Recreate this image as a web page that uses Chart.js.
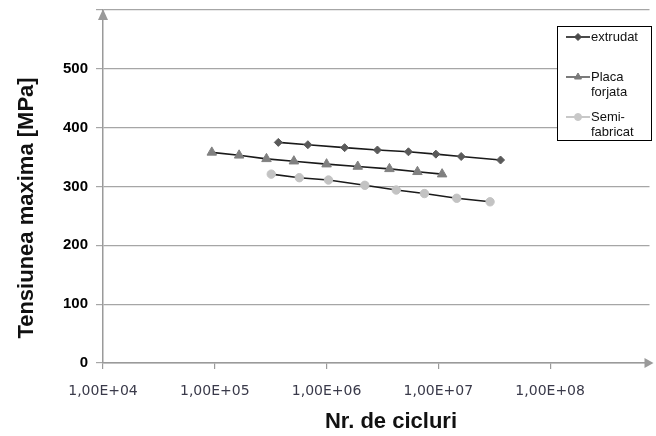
<!DOCTYPE html>
<html>
<head>
<meta charset="utf-8">
<script src="https://cdn.jsdelivr.net/npm/chart.js@4"></script>
<style>
    html, body { margin: 0; padding: 0; background: #fff; }
    #wrap { width: 656px; height: 436px; }
</style>
</head>
<body>
<div id="wrap"><canvas id="chart" width="656" height="436"></canvas></div>
<script>
const seriesNames = ['extrudat', 'Placa forjata', 'Semi-fabricat'];
const legendLines = [['extrudat'], ['Placa', 'forjata'], ['Semi-', 'fabricat']];

const extrudatCycles = [3.7e5, 6.8e5, 1.45e6, 2.85e6, 5.4e6, 9.5e6, 1.6e7, 3.6e7];
const extrudatStress = [375, 371, 366, 362, 359, 355, 351, 345];

const placaCycles = [9.4e4, 1.65e5, 2.9e5, 5.1e5, 1.0e6, 1.9e6, 3.65e6, 6.5e6, 1.08e7];
const placaStress = [358, 353, 347, 343, 338, 334, 330, 325, 321];

const semiCycles = [3.2e5, 5.7e5, 1.04e6, 2.2e6, 4.2e6, 7.5e6, 1.46e7, 2.9e7];
const semiStress = [321, 315, 311, 302, 294, 288, 280, 274];

const xTickValues = [1e4, 1e5, 1e6, 1e7, 1e8];
const xTickLabels = ['1,00E+04', '1,00E+05', '1,00E+06', '1,00E+07', '1,00E+08'];
const yTickValues = [0, 100, 200, 300, 400, 500, 600];
const yTickLabels = ['0', '100', '200', '300', '400', '500', ''];

const xTitle = 'Nr. de cicluri';
const yTitle = 'Tensiunea maxima [MPa]';

const FONT = "'Liberation Sans', Arial, sans-serif";

function toPoints(xs, ys) {
    return xs.map((x, i) => ({ x: x, y: ys[i] }));
}

// marker looks per series (plot + legend)
const looks = [
    { style: 'rectRot', color: '#5a5a5a', legendLine: '#4a4a4a', radius: 4, legendRadius: 3.5 },
    { style: 'triangle', color: '#808080', legendLine: '#7a7a7a', radius: 5.5, legendRadius: 4 },
    { style: 'circle', color: '#c3c3c3', legendLine: '#c8c8c8', radius: 4.2, legendRadius: 3.5 }
];

const seriesData = [
    toPoints(extrudatCycles, extrudatStress),
    toPoints(placaCycles, placaStress),
    toPoints(semiCycles, semiStress)
];

const datasets = seriesData.map((pts, i) => ({
    label: seriesNames[i],
    data: pts,
    borderColor: '#1a1a1a',
    borderWidth: 1.6,
    pointStyle: looks[i].style,
    pointRadius: looks[i].radius,
    pointBackgroundColor: looks[i].color,
    pointBorderColor: looks[i].color,
    pointBorderWidth: 1,
    tension: 0
}));

// arrow heads on the axis ends + axis titles
const axisExtras = {
    id: 'axisExtras',
    afterDraw(chart) {
        const { ctx, chartArea } = chart;
        ctx.save();
        ctx.fillStyle = '#9a9a9a';
        ctx.beginPath();
        ctx.moveTo(chartArea.left, chartArea.top - 1);
        ctx.lineTo(chartArea.left - 5, chartArea.top + 10);
        ctx.lineTo(chartArea.left + 5, chartArea.top + 10);
        ctx.closePath();
        ctx.fill();
        ctx.beginPath();
        ctx.moveTo(chartArea.right + 4, chartArea.bottom);
        ctx.lineTo(chartArea.right - 5, chartArea.bottom - 5);
        ctx.lineTo(chartArea.right - 5, chartArea.bottom + 5);
        ctx.closePath();
        ctx.fill();

        ctx.fillStyle = '#111';
        ctx.font = 'bold 22px ' + FONT;
        ctx.textAlign = 'center';
        ctx.textBaseline = 'alphabetic';
        ctx.fillText(xTitle, 391, 428);

        ctx.translate(33, 208);
        ctx.rotate(-Math.PI / 2);
        ctx.fillText(yTitle, 0, 0);
        ctx.restore();
    }
};

// boxed legend in the top right corner
const boxLegend = {
    id: 'boxLegend',
    afterDraw(chart) {
        const ctx = chart.ctx;
        const box = { x: 557, y: 26, w: 94, h: 114 };
        const rowY = [37, 77, 117];
        ctx.save();
        ctx.fillStyle = '#fff';
        ctx.fillRect(box.x, box.y, box.w, box.h);
        ctx.strokeStyle = '#000';
        ctx.lineWidth = 1;
        ctx.strokeRect(box.x + 0.5, box.y + 0.5, box.w, box.h);
        ctx.font = '13px ' + FONT;
        ctx.textBaseline = 'middle';
        legendLines.forEach((lines, i) => {
            const y = rowY[i];
            ctx.strokeStyle = looks[i].legendLine;
            ctx.lineWidth = 2;
            ctx.beginPath();
            ctx.moveTo(566, y);
            ctx.lineTo(590, y);
            ctx.stroke();
            ctx.fillStyle = looks[i].legendLine;
            ctx.lineWidth = 1;
            Chart.helpers.drawPoint(ctx, { pointStyle: looks[i].style, radius: looks[i].legendRadius, rotation: 0, borderWidth: 1 }, 578, y);
            ctx.fillStyle = '#111';
            lines.forEach((t, j) => ctx.fillText(t, 591, y + j * 15));
        });
        ctx.restore();
    }
};

new Chart(document.getElementById('chart'), {
    type: 'line',
    data: { datasets: datasets },
    plugins: [axisExtras, boxLegend],
    options: {
        responsive: false,
        animation: false,
        layout: { padding: { top: 10, right: 4, left: 0, bottom: 0 } },
        plugins: {
            legend: { display: false },
            tooltip: { enabled: false }
        },
        scales: {
            x: {
                type: 'logarithmic',
                min: 1e4,
                max: 7.74e8,
                afterBuildTicks: s => { s.ticks = xTickValues.map(v => ({ value: v })); },
                afterFit: s => { s.height = 73; s.paddingLeft = 0; s.paddingRight = 0; },
                border: { color: '#9a9a9a', width: 1.5 },
                grid: { drawOnChartArea: false, drawTicks: true, tickLength: 6, color: '#9a9a9a', lineWidth: 1.2 },
                ticks: {
                    autoSkip: false,
                    maxRotation: 0,
                    padding: 14,
                    color: '#3a3a4a',
                    font: { family: "'DejaVu Sans', sans-serif", size: 14 },
                    callback: (v, i) => xTickLabels[i]
                }
            },
            y: {
                min: 0,
                max: 600,
                afterBuildTicks: s => { s.ticks = yTickValues.map(v => ({ value: v })); },
                afterFit: s => { s.width = 103; s.paddingTop = 0; s.paddingBottom = 0; },
                border: { color: '#9a9a9a', width: 1.5 },
                grid: { color: '#a6a6a6', lineWidth: 1.2, tickLength: 7 },
                ticks: {
                    padding: 8,
                    color: '#000',
                    font: { family: FONT, size: 15, weight: 'bold' },
                    callback: (v, i) => yTickLabels[i]
                }
            }
        }
    }
});
</script>
</body>
</html>
